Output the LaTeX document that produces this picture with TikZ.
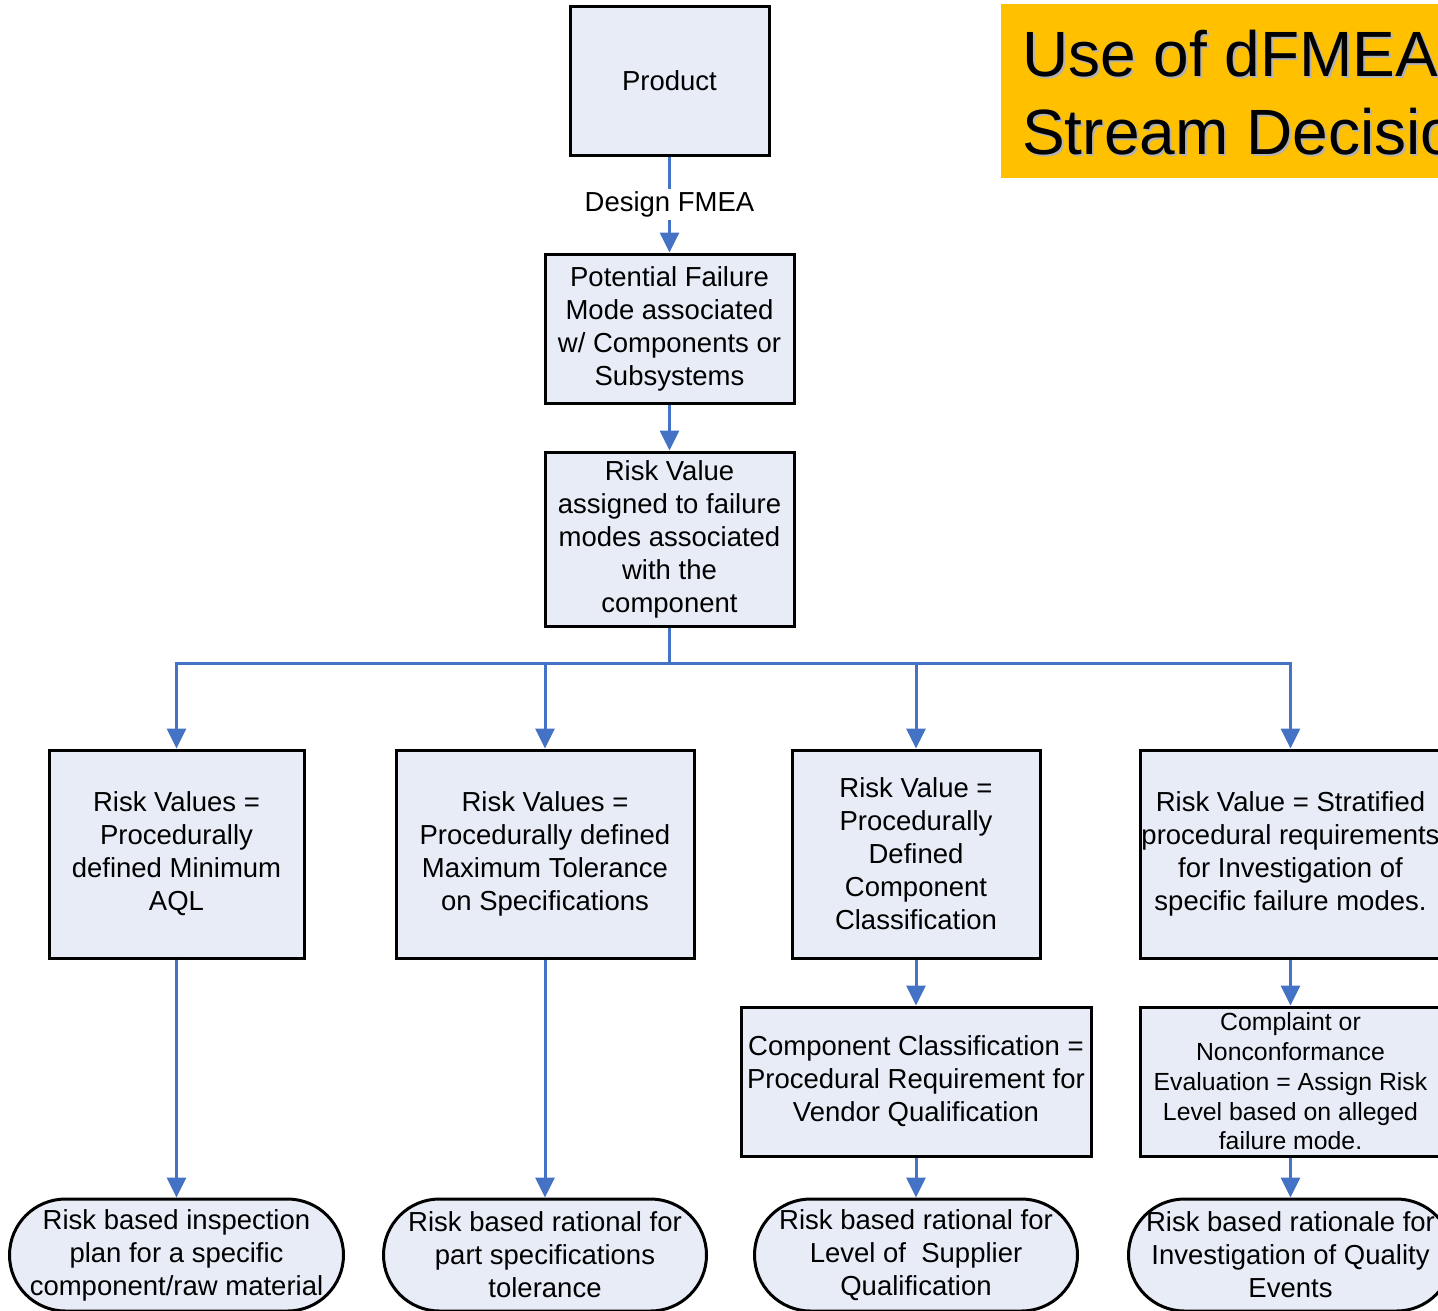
\documentclass[tikz,border=0pt]{standalone}
\usepackage{fontspec}
\setmainfont{Liberation Sans}
\usetikzlibrary{arrows.meta}
\definecolor{linkblue}{RGB}{68,114,196}
\definecolor{boxfill}{RGB}{231,236,247}
\definecolor{titlebg}{RGB}{255,192,0}
\tikzset{
every picture/.style={
x=1pt, y=-1pt
}}

\begin{document}
\begin{tikzpicture}[
block/.style = {rectangle, draw=black, line width=3pt, fill=boxfill, align=center, inner sep=0pt, font=\fontsize{27.5}{33}\selectfont},
term/.style = {block, rounded corners=56pt},
link/.style = {draw=linkblue, line width=3pt},
arrow/.style = {link, -{Triangle[width=19pt,length=20pt]}}]

\useasboundingbox (0,0) rectangle (1438,1310);
\clip (0,0) rectangle (1438,1310);

\fill [titlebg] (1001,4) rectangle (1450,178);
\node [anchor=west, align=left, inner sep=0pt, text=black!30, font=\fontsize{64}{78}\selectfont] at (1024,95) (titleshade) {Use of dFMEA\\Stream Decision};
\node [anchor=west, align=left, inner sep=0pt, font=\fontsize{64}{78}\selectfont] at (1022,93) (title) {Use of dFMEA\\Stream Decision};

\node [block, minimum width=199pt, minimum height=149pt] at (669.5,80.5) (prod) {Product};
\node [block, minimum width=249pt, minimum height=149pt] at (669.5,328.5) (pfm) {Potential Failure\\Mode associated\\w/ Components or\\Subsystems};
\node [block, minimum width=249pt, minimum height=174pt] at (669.5,539) (rv) {Risk Value\\assigned to failure\\modes associated\\with the\\component};

\node [block, minimum width=255pt, minimum height=208pt] at (176.5,854) (aql) {Risk Values =\\Procedurally\\defined Minimum\\AQL};
\node [block, minimum width=298pt, minimum height=208pt] at (545,854) (tol) {Risk Values =\\Procedurally defined\\Maximum Tolerance\\on Specifications};
\node [block, minimum width=248pt, minimum height=208pt] at (916,854) (cls) {Risk Value =\\Procedurally\\Defined\\Component\\Classification};
\node [block, minimum width=301pt, minimum height=208pt] at (1290.5,854) (strat) {Risk Value = Stratified\\procedural requirements\\for Investigation of\\specific failure modes.};

\node [block, minimum width=350pt, minimum height=149pt] at (916,1081.5) (vend) {Component Classification =\\Procedural Requirement for\\Vendor Qualification};
\node [block, minimum width=301pt, minimum height=149pt, font=\fontsize{24.8}{29.7}\selectfont] at (1290.5,1081.5) (nc) {Complaint or\\Nonconformance\\Evaluation = Assign Risk\\Level based on alleged\\failure mode.};

\node [term, minimum width=334pt, minimum height=112pt] at (176.5,1255) (insp) {Risk based inspection\\plan for a specific\\component/raw material};
\node [term, minimum width=323pt, minimum height=112pt] at (545,1255) (spec) {Risk based rational for\\part specifications\\tolerance};
\node [term, minimum width=323pt, minimum height=112pt] at (916,1255) (supp) {Risk based rational for\\Level of \ Supplier\\Qualification};
\node [term, minimum width=324pt, minimum height=112pt] at (1290.5,1255) (qe) {Risk based rationale for\\Investigation of Quality\\Events};

\coordinate (bus) at (669.5,663);

\draw[arrow] (prod) -- node [fill=white, inner sep=3pt, font=\fontsize{27.5}{33}\selectfont] {Design FMEA} (pfm);
\draw[arrow] (pfm) -- (rv);
\draw[link] (rv) -- (bus);
\draw[arrow] (bus) -| (aql.north);
\draw[arrow] (bus) -| (tol.north);
\draw[arrow] (bus) -| (cls.north);
\draw[arrow] (bus) -| (strat.north);

\draw[arrow] (aql) -- (insp);
\draw[arrow] (tol) -- (spec);
\draw[arrow] (cls) -- (vend);
\draw[arrow] (vend) -- (supp);
\draw[arrow] (strat) -- (nc);
\draw[arrow] (nc) -- (qe);

\end{tikzpicture}
\end{document}
